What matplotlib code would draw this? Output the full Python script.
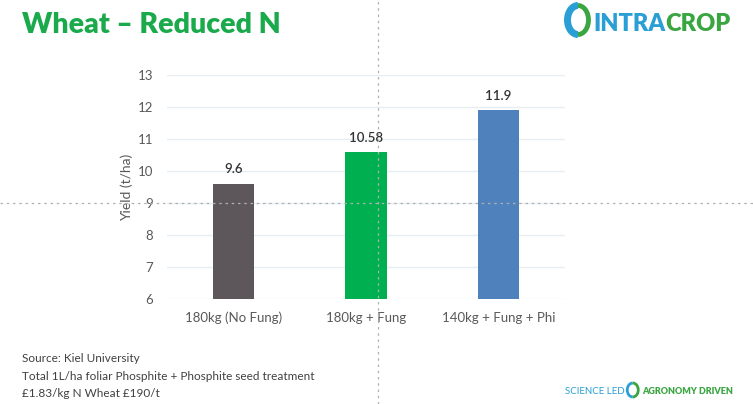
import matplotlib.pyplot as plt
from matplotlib.patches import Arc
from matplotlib.lines import Line2D

categories = ['180kg (No Fung)', '180kg + Fung', '140kg + Fung + Phi']
yields = [9.6, 10.58, 11.9]
value_labels = ['9.6', '10.58', '11.9']
bar_colors = ['#5d565b', '#00b050', '#4f81bd']
y_ticks = [6, 7, 8, 9, 10, 11, 12, 13]

notes = ['Source: Kiel University',
         'Total 1L/ha foliar Phosphite + Phosphite seed treatment',
         '\u00a31.83/kg N Wheat \u00a3190/t']

plt.rcParams['font.family'] = ['Lato', 'DejaVu Sans']

W, H = 753, 404
fig = plt.figure(figsize=(W / 100, H / 100), dpi=100)
renderer = fig.canvas.get_renderer()


def fx(px):
    return px / W


def fy(py):
    return 1 - py / H


def text_right(t):
    # right edge of a text, in figure fraction
    bb = t.get_window_extent(renderer=renderer)
    return bb.x1 / W


ax = fig.add_axes([fx(167), fy(299), fx(565) - fx(167), fy(75) - fy(299)])
x = range(len(categories))
ax.bar(x, yields, width=0.31, color=bar_colors, zorder=3)
for i, v in enumerate(yields):
    ax.annotate(value_labels[i], (i, v), xytext=(0, 6), textcoords='offset points',
                ha='center', va='bottom', fontsize=9.5, fontweight='semibold',
                color='#333333')

ax.set_xlim(-0.5, 2.5)
ax.set_ylim(6, 13)
ax.set_yticks(y_ticks)
ax.set_xticks(list(x))
ax.set_xticklabels(categories)
ax.tick_params(axis='both', length=0, labelsize=9.5, colors='#595959')
ax.tick_params(axis='x', pad=9)
ax.tick_params(axis='y', pad=10)
ax.grid(axis='y', color='#e6eef1', linewidth=1, zorder=0)
for s in ax.spines.values():
    s.set_visible(False)
ax.set_ylabel('Yield (t/ha)', fontsize=10, color='#595959', va='center')
ax.yaxis.set_label_coords(-0.1, 0.5)

# title
fig.text(fx(22), fy(33), 'Wheat \u2013 Reduced N', fontsize=20.5, fontweight='heavy',
         color='#1aaa4b', ha='left', va='baseline')

# notes
for i, line in enumerate(notes):
    fig.text(fx(22), fy(362 + i * 17.5), line, fontsize=8.5, color='#404040',
             ha='left', va='baseline')

# guide lines
fig.add_artist(Line2D([fx(378), fx(378)], [0, 1], color='#b0b0b0', lw=0.9,
                      ls=(0, (2, 3)), zorder=10))
fig.add_artist(Line2D([0, 1], [fy(203), fy(203)], color='#b0b0b0', lw=0.9,
                      ls=(0, (2, 3)), zorder=10))

# logo
fig.add_artist(Arc((fx(578), fy(20)), fx(21), fy(0) - fy(29), theta1=90, theta2=270,
                   color='#2a9fd6', lw=5, transform=fig.transFigure))
fig.add_artist(Arc((fx(578), fy(20)), fx(21), fy(0) - fy(29), theta1=-90, theta2=90,
                   color='#3aa641', lw=3.5, transform=fig.transFigure))
t = fig.text(fx(593), fy(31), 'INTRA', fontsize=17, fontweight='heavy', color='#2a9fd6',
             ha='left', va='baseline')
fig.text(text_right(t), fy(31), 'CROP', fontsize=17, fontweight='heavy', color='#3aa641',
         ha='left', va='baseline')

# footer slogan
t = fig.text(fx(565), fy(394), 'SCIENCE LED', fontsize=7, color='#2a9fd6',
             ha='left', va='baseline')
cx = text_right(t) + fx(8)
fig.add_artist(Arc((cx, fy(390)), fx(11), fy(0) - fy(14), theta1=90, theta2=270,
                   color='#2a9fd6', lw=2, transform=fig.transFigure))
fig.add_artist(Arc((cx, fy(390)), fx(11), fy(0) - fy(14), theta1=-90, theta2=90,
                   color='#3aa641', lw=2, transform=fig.transFigure))
fig.text(cx + fx(9), fy(394), 'AGRONOMY DRIVEN', fontsize=6.5, fontweight='heavy',
         color='#3aa641', ha='left', va='baseline')

fig.savefig('out.png', dpi=100)
